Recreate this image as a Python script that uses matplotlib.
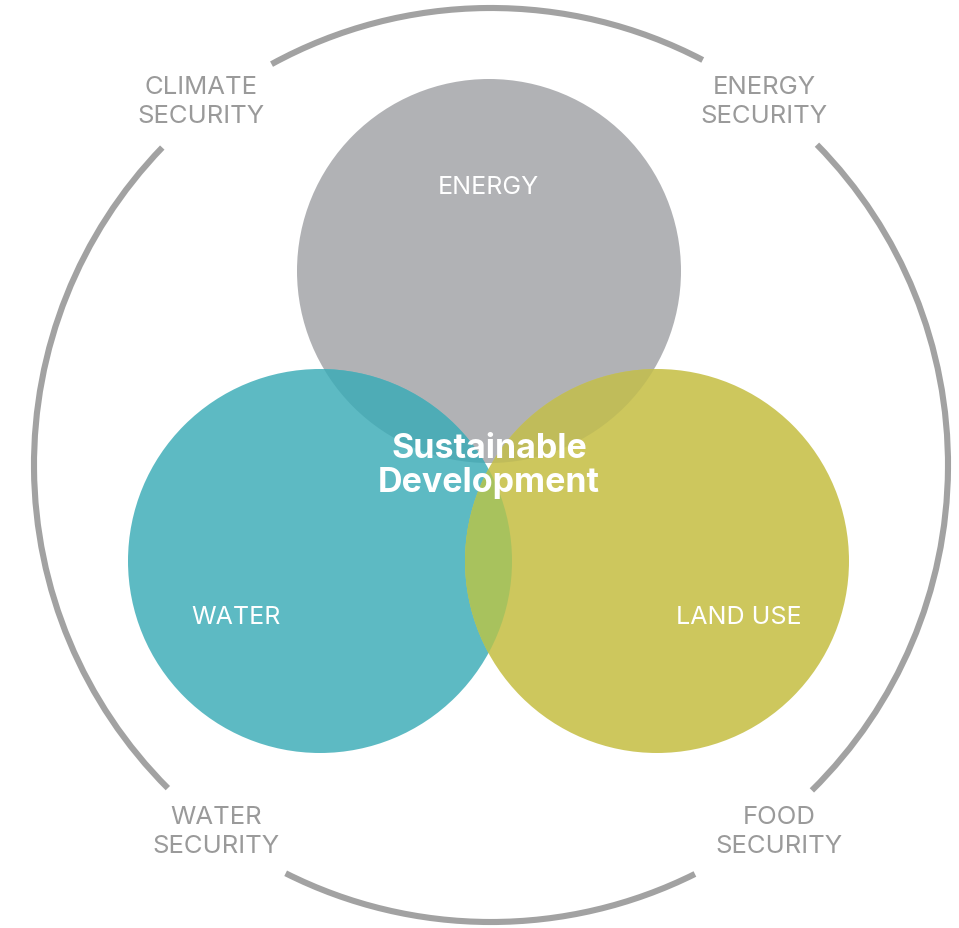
import matplotlib
matplotlib.use('Agg')
import matplotlib.pyplot as plt
from matplotlib.patches import Circle, Arc

# Categories of the three overlapping circles
circle_names = ['ENERGY', 'WATER', 'LAND USE']
circle_colors = ['#b1b2b5', '#5dbac3', '#cdc75d']

# Colours where two circles overlap (gray/teal, gray/yellow, teal/yellow)
overlap_colors = {(0, 1): '#4eacb6', (0, 2): '#c0bc5a', (1, 2): '#a8c25d'}

# Labels around the outer ring
ring_labels = ['CLIMATE\nSECURITY', 'ENERGY\nSECURITY', 'WATER\nSECURITY', 'FOOD\nSECURITY']
center_label = 'Sustainable\nDevelopment'

# Outer ring arc pieces (start, end angle in degrees)
ring_arcs = [(62.4, 118.7), (136.0, 225.0), (243.3, 296.5), (-45.4, 44.5)]

W, H = 959, 929

# Layout, in pixels from the top left of the picture
circle_xy = [(489, 272), (320, 562), (657, 562)]
circle_r = 192
name_xy = [(488, 187), (236, 617), (739, 617)]
ring_xy = (491, 466)
ring_r = 457
ring_label_xy = [(201, 102), (764, 102), (216, 832), (779, 832)]
center_xy = (489, 466)

FONT = ['Inter', 'DejaVu Sans']
RING_GRAY = '#a2a2a2'


def flip(p):
    return (p[0], H - p[1])


fig = plt.figure(figsize=(W / 100, H / 100), dpi=100)
ax = fig.add_axes([0, 0, 1, 1])
ax.set_xlim(0, W)
ax.set_ylim(0, H)
ax.set_aspect('equal')
ax.axis('off')

# Outer ring, broken where the corner labels sit
for t1, t2 in ring_arcs:
    ax.add_patch(Arc(flip(ring_xy), 2 * ring_r, 2 * ring_r, theta1=t1, theta2=t2,
                     color=RING_GRAY, lw=4.4))

# Base circles
base = []
for xy, col in zip(circle_xy, circle_colors):
    c = Circle(flip(xy), circle_r, facecolor=col, edgecolor='none', zorder=2)
    ax.add_patch(c)
    base.append(c)

# Overlaps: draw one circle again, clipped to the other
for (i, j), col in overlap_colors.items():
    c = Circle(flip(circle_xy[i]), circle_r, facecolor=col, edgecolor='none', zorder=3)
    ax.add_patch(c)
    c.set_clip_path(base[j])

# Circle names
for name, xy in zip(circle_names, name_xy):
    x, y = flip(xy)
    ax.text(x, y, name, color='white', fontsize=18, family=FONT,
            ha='center', va='center', zorder=5)

# Ring labels
for lab, xy in zip(ring_labels, ring_label_xy):
    x, y = flip(xy)
    ax.text(x, y, lab, color='#9a9a9a', fontsize=18.5, family=FONT,
            ha='center', va='center', linespacing=1.35, zorder=5)

x, y = flip(center_xy)
ax.text(x, y, center_label, color='white', fontsize=24.5, family=FONT,
        fontweight='bold', ha='center', va='center', linespacing=1.1, zorder=6)

fig.savefig('out.png', dpi=100, facecolor='white')
